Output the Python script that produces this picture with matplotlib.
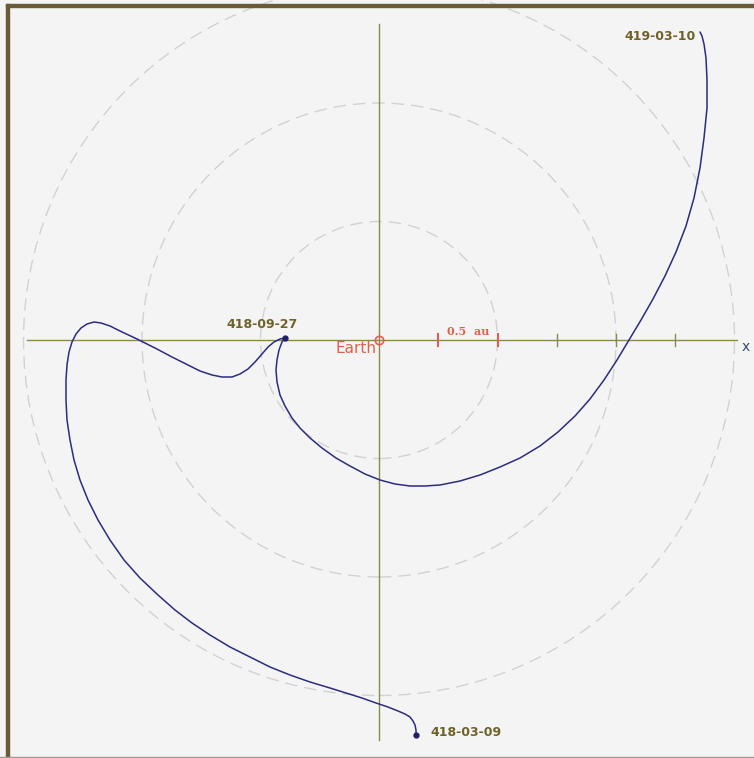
import numpy as np
import matplotlib.pyplot as plt
from matplotlib.patches import Circle, Rectangle

# scale: pixels per au in the reference picture, origin = Earth
PX_AU = 237.0
CX, CY = 379.0, 340.0

# trajectory (pixel coords), 418-03-09 -> 419-03-10
path_px_x = [416, 416, 415, 413, 410, 405, 398, 388, 376, 362, 346, 330, 310, 290, 270,
             250, 230, 210, 192, 175, 158, 140, 124, 110, 98, 88, 80, 74, 70, 67, 66,
             66, 67, 69, 72, 76, 81, 87, 94, 101, 110, 120, 137, 155, 172, 188, 200,
             212, 222, 232, 240, 248, 255, 262, 268, 274, 280, 285,
             282, 279, 277, 276, 277, 280, 285, 292, 300, 310, 322, 336, 350, 365,
             380, 395, 410, 425, 440, 460, 480, 500, 520, 540, 558, 575, 590, 604,
             617, 629, 641, 653, 665, 676, 686, 694, 700, 704, 707, 707, 706, 704,
             702, 700]
path_px_y = [735, 730, 725, 721, 717, 714, 711, 707, 703, 698, 693, 688, 682, 675, 667,
             657, 647, 635, 623, 610, 595, 578, 560, 540, 520, 500, 480, 460, 440, 420,
             400, 380, 365, 352, 342, 334, 328, 324, 322, 323, 326, 331, 339, 348, 357,
             365, 371, 375, 377, 377, 374, 369, 362, 354, 347, 342, 339, 338,
             342, 350, 360, 370, 382, 395, 406, 418, 428, 438, 448, 458, 466, 474,
             480, 484, 486, 486, 485, 481, 475, 467, 458, 446, 432, 416, 399, 380,
             360, 340, 320, 299, 276, 252, 226, 198, 168, 138, 108, 80, 58, 44,
             36, 32]

path_x = (np.array(path_px_x) - CX) / PX_AU
path_y = (CY - np.array(path_px_y)) / PX_AU

circle_radii = [0.5, 1.0, 1.5]           # au
tick_pos = [0.25, 0.5, 0.75, 1.0, 1.25]  # au
red_ticks = [0.25, 0.5]

# labelled points (pixel coords in the reference)
labels = ["418-03-09", "418-09-27", "419-03-10"]
label_px = [(416, 735), (285, 338), (700, 32)]

W, H = 754, 758
fig = plt.figure(figsize=(W / 100, H / 100), dpi=100)
fig.patch.set_facecolor("#f4f4f4")
ax = fig.add_axes([0, 0, 1, 1])
ax.set_facecolor("#f4f4f4")
ax.set_xlim(-CX / PX_AU, (W - CX) / PX_AU)
ax.set_ylim(-(H - CY) / PX_AU, CY / PX_AU)
ax.set_aspect("equal")
ax.axis("off")

axis_col = "#8a8a4a"
for r in circle_radii:
    ax.add_patch(Circle((0, 0), r, fill=False, ec="#d2d2d2", lw=1.0,
                        ls=(0, (9, 5)), zorder=1))

# axes through Earth
ax.plot([(27 - CX) / PX_AU, (737 - CX) / PX_AU], [0, 0], color=axis_col, lw=1.0, zorder=2)
ax.plot([0, 0], [(CY - 740) / PX_AU, (CY - 24) / PX_AU], color=axis_col, lw=1.0, zorder=2)
tl = 6 / PX_AU
for t in tick_pos:
    c = "#e0604a" if t in red_ticks else axis_col
    ax.plot([t, t], [-tl, tl], color=c, lw=1.5 if t in red_ticks else 1.0, zorder=2)
ax.text((746 - CX) / PX_AU, (CY - 347) / PX_AU, "x", color="#3a4a70", fontsize=10,
        ha="center", va="center")
ax.text(0.375, 0.035, "0.5  au", color="#e0604a", fontsize=8, fontweight="bold",
        family="DejaVu Serif", ha="center", va="center")

# Earth
ax.plot([0], [0], marker="o", ms=6, mfc="none", mec="#e0604a", mew=1.2, zorder=4)
ax.text(-0.01, -0.035, "Earth", color="#e0604a", fontsize=11, ha="right", va="center")

# trajectory
ax.plot(path_x, path_y, color="#2c2c80", lw=1.1, zorder=3,
        solid_joinstyle="round", solid_capstyle="round")

ends_x = [(p[0] - CX) / PX_AU for p in label_px]
ends_y = [(CY - p[1]) / PX_AU for p in label_px]
ax.plot(ends_x[:2], ends_y[:2], "o", color="#1e1e6a", ms=3.5, zorder=4)

lab_col = "#6e6228"
ax.text(ends_x[0] + 14 / PX_AU, ends_y[0] + 3 / PX_AU, labels[0], color=lab_col,
        fontsize=9, fontweight="bold", ha="left", va="center")
ax.text(ends_x[1] - 23 / PX_AU, ends_y[1] + 14 / PX_AU, labels[1], color=lab_col,
        fontsize=9, fontweight="bold", ha="center", va="center")
ax.text(ends_x[2] - 4 / PX_AU, ends_y[2] - 4 / PX_AU, labels[2], color=lab_col,
        fontsize=9, fontweight="bold", ha="right", va="center")

# frame
fig.patches.append(Rectangle((6 / W, 0), 3 / W, 1 - 4 / H, transform=fig.transFigure,
                             color="#6b5a3a", zorder=10))
fig.patches.append(Rectangle((6 / W, 1 - 7 / H), 1, 3 / H, transform=fig.transFigure,
                             color="#6b5a3a", zorder=10))
fig.patches.append(Rectangle((0, 0), 1, 1.5 / H, transform=fig.transFigure,
                             color="#a09a90", zorder=10))

fig.savefig("out.png", dpi=100, facecolor=fig.get_facecolor())
